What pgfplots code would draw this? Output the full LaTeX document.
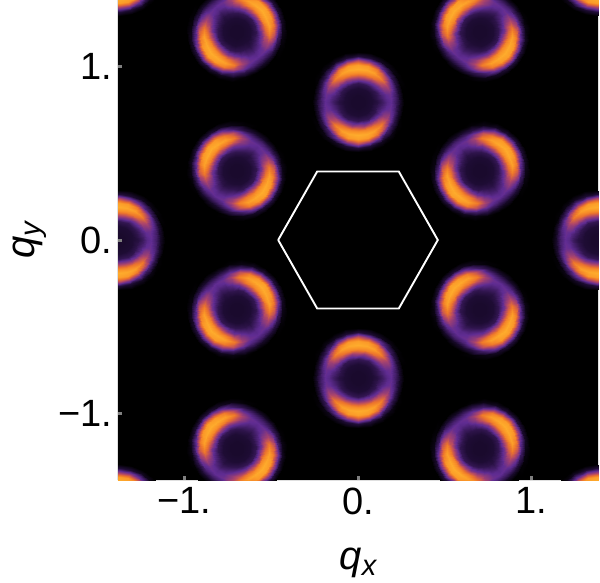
\documentclass[border=0pt]{standalone}
\usepackage{fontspec}
\setmainfont{Liberation Sans}
\usepackage{pgfplots}
\usepackage{pgfplotstable}
\pgfplotsset{compat=1.18}
\definecolor{tickgray}{gray}{0.5}
\pgfplotsset{
  colormap={ringmap}{
    rgb255(0cm)=(0,0,0);
    rgb255(8cm)=(30,12,52);
    rgb255(30cm)=(96,44,146);
    rgb255(50cm)=(175,70,105);
    rgb255(70cm)=(235,115,45);
    rgb255(85cm)=(250,150,40);
    rgb255(100cm)=(255,178,45)
  }
}
% one ring in polar form: t = angle from the arc centre, r = radius, v = level
\pgfplotstableread[row sep=\\]{
t r v\\
0 0 .07\\0 .04 .07\\0 .08 .08\\0 .11 .15\\0 .14 .46\\0 .165 .80\\0 .19 .97\\0 .215 .90\\0 .24 .50\\0 .265 .09\\0 .29 0\\
15 0 .07\\15 .04 .07\\15 .08 .08\\15 .11 .15\\15 .14 .44\\15 .165 .78\\15 .19 .95\\15 .215 .86\\15 .24 .45\\15 .265 .08\\15 .29 0\\
30 0 .07\\30 .04 .07\\30 .08 .08\\30 .11 .15\\30 .14 .40\\30 .165 .72\\30 .19 .90\\30 .215 .74\\30 .24 .33\\30 .265 .05\\30 .29 0\\
45 0 .07\\45 .04 .07\\45 .08 .08\\45 .11 .14\\45 .14 .34\\45 .165 .58\\45 .19 .74\\45 .215 .55\\45 .24 .20\\45 .265 .03\\45 .29 0\\
60 0 .07\\60 .04 .07\\60 .08 .08\\60 .11 .14\\60 .14 .28\\60 .165 .42\\60 .19 .48\\60 .215 .34\\60 .24 .11\\60 .265 .01\\60 .29 0\\
75 0 .07\\75 .04 .07\\75 .08 .08\\75 .11 .13\\75 .14 .22\\75 .165 .30\\75 .19 .33\\75 .215 .23\\75 .24 .07\\75 .265 0\\75 .29 0\\
90 0 .07\\90 .04 .07\\90 .08 .08\\90 .11 .11\\90 .14 .18\\90 .165 .27\\90 .19 .30\\90 .215 .20\\90 .24 .06\\90 .265 0\\90 .29 0\\
105 0 .07\\105 .04 .07\\105 .08 .08\\105 .11 .13\\105 .14 .22\\105 .165 .30\\105 .19 .33\\105 .215 .23\\105 .24 .07\\105 .265 0\\105 .29 0\\
120 0 .07\\120 .04 .07\\120 .08 .08\\120 .11 .14\\120 .14 .28\\120 .165 .42\\120 .19 .48\\120 .215 .34\\120 .24 .11\\120 .265 .01\\120 .29 0\\
135 0 .07\\135 .04 .07\\135 .08 .08\\135 .11 .14\\135 .14 .34\\135 .165 .58\\135 .19 .74\\135 .215 .55\\135 .24 .20\\135 .265 .03\\135 .29 0\\
150 0 .07\\150 .04 .07\\150 .08 .08\\150 .11 .15\\150 .14 .40\\150 .165 .72\\150 .19 .90\\150 .215 .74\\150 .24 .33\\150 .265 .05\\150 .29 0\\
165 0 .07\\165 .04 .07\\165 .08 .08\\165 .11 .15\\165 .14 .44\\165 .165 .78\\165 .19 .95\\165 .215 .86\\165 .24 .45\\165 .265 .08\\165 .29 0\\
180 0 .07\\180 .04 .07\\180 .08 .08\\180 .11 .15\\180 .14 .46\\180 .165 .80\\180 .19 .97\\180 .215 .90\\180 .24 .50\\180 .265 .09\\180 .29 0\\
195 0 .07\\195 .04 .07\\195 .08 .08\\195 .11 .15\\195 .14 .44\\195 .165 .78\\195 .19 .95\\195 .215 .86\\195 .24 .45\\195 .265 .08\\195 .29 0\\
210 0 .07\\210 .04 .07\\210 .08 .08\\210 .11 .15\\210 .14 .40\\210 .165 .72\\210 .19 .90\\210 .215 .74\\210 .24 .33\\210 .265 .05\\210 .29 0\\
225 0 .07\\225 .04 .07\\225 .08 .08\\225 .11 .14\\225 .14 .34\\225 .165 .58\\225 .19 .74\\225 .215 .55\\225 .24 .20\\225 .265 .03\\225 .29 0\\
240 0 .07\\240 .04 .07\\240 .08 .08\\240 .11 .14\\240 .14 .28\\240 .165 .42\\240 .19 .48\\240 .215 .34\\240 .24 .11\\240 .265 .01\\240 .29 0\\
255 0 .07\\255 .04 .07\\255 .08 .08\\255 .11 .13\\255 .14 .22\\255 .165 .30\\255 .19 .33\\255 .215 .23\\255 .24 .07\\255 .265 0\\255 .29 0\\
270 0 .07\\270 .04 .07\\270 .08 .08\\270 .11 .11\\270 .14 .18\\270 .165 .27\\270 .19 .30\\270 .215 .20\\270 .24 .06\\270 .265 0\\270 .29 0\\
285 0 .07\\285 .04 .07\\285 .08 .08\\285 .11 .13\\285 .14 .22\\285 .165 .30\\285 .19 .33\\285 .215 .23\\285 .24 .07\\285 .265 0\\285 .29 0\\
300 0 .07\\300 .04 .07\\300 .08 .08\\300 .11 .14\\300 .14 .28\\300 .165 .42\\300 .19 .48\\300 .215 .34\\300 .24 .11\\300 .265 .01\\300 .29 0\\
315 0 .07\\315 .04 .07\\315 .08 .08\\315 .11 .14\\315 .14 .34\\315 .165 .58\\315 .19 .74\\315 .215 .55\\315 .24 .20\\315 .265 .03\\315 .29 0\\
330 0 .07\\330 .04 .07\\330 .08 .08\\330 .11 .15\\330 .14 .40\\330 .165 .72\\330 .19 .90\\330 .215 .74\\330 .24 .33\\330 .265 .05\\330 .29 0\\
345 0 .07\\345 .04 .07\\345 .08 .08\\345 .11 .15\\345 .14 .44\\345 .165 .78\\345 .19 .95\\345 .215 .86\\345 .24 .45\\345 .265 .08\\345 .29 0\\
360 0 .07\\360 .04 .07\\360 .08 .08\\360 .11 .15\\360 .14 .46\\360 .165 .80\\360 .19 .97\\360 .215 .90\\360 .24 .50\\360 .265 .09\\360 .29 0\\
}\ringdata
% #1,#2 centre of the ring, #3 direction of its bright arc
\newcommand{\ring}[3]{%
  \addplot3[surf,shader=interp,mesh/cols=11,point meta=\thisrow{v}]
    table[x expr={#1+\thisrow{r}*cos(\thisrow{t}+#3)},
          y expr={#2+\thisrow{r}*sin(\thisrow{t}+#3)},
          z expr=0] {\ringdata};
}
\begin{document}
\begin{tikzpicture}
\useasboundingbox (-118pt,-102pt) rectangle (482pt,480pt);
\begin{axis}[
  at={(0pt,0pt)},
  anchor=south west,
  scale only axis,
  width=480pt,
  height=480pt,
  view={0}{90},
  xmin=-1.383,xmax=1.383,
  ymin=-1.383,ymax=1.383,
  zmin=-1,zmax=1,
  colormap name=ringmap,
  point meta min=0,
  point meta max=1,
  axis on top,
  axis background/.style={fill=black},
  axis line style={draw=none},
  xtick={-1,0,1},
  ytick={-1,0,1},
  ztick=\empty,
  xticklabels={−1.,0.,1.},
  yticklabels={−1.,0.,1.},
  tick align=inside,
  xtick pos=left,
  ytick pos=left,
  major tick length=4pt,
  tick style={draw=tickgray,line width=3pt},
  tick label style={font=\fontsize{38}{38}\selectfont},
  xticklabel style={yshift=-4pt},
  yticklabel style={xshift=-2pt},
  xlabel={\fontsize{40}{40}\selectfont\itshape q\raisebox{-.15em}{\fontsize{29}{29}\selectfont x}},
  ylabel={\fontsize{40}{40}\selectfont\itshape q\raisebox{-.15em}{\fontsize{29}{29}\selectfont y}},
  xlabel style={at={(axis description cs:0.5,-0.186)},anchor=base},
  ylabel style={at={(axis description cs:-0.173,0.5)},anchor=base,rotate=0},
]
\ring{0}{0.795}{90}
\ring{0}{-0.795}{90}
\ring{-1.38}{0}{90}
\ring{1.38}{0}{90}
\ring{-1.38}{1.58}{90}
\ring{1.38}{1.58}{90}
\ring{-1.38}{-1.58}{90}
\ring{1.38}{-1.58}{90}
\ring{-0.70}{0.40}{140}
\ring{0.70}{0.40}{40}
\ring{-0.70}{-0.40}{40}
\ring{0.70}{-0.40}{140}
\ring{-0.70}{1.20}{40}
\ring{0.70}{1.20}{140}
\ring{-0.70}{-1.20}{140}
\ring{0.70}{-1.20}{40}
\addplot3[white,line width=1.9pt,no markers] coordinates {
  (-0.46,0,0) (-0.235,0.395,0) (0.235,0.395,0) (0.46,0,0)
  (0.235,-0.395,0) (-0.235,-0.395,0) (-0.46,0,0)};
\end{axis}
\end{tikzpicture}
\end{document}
